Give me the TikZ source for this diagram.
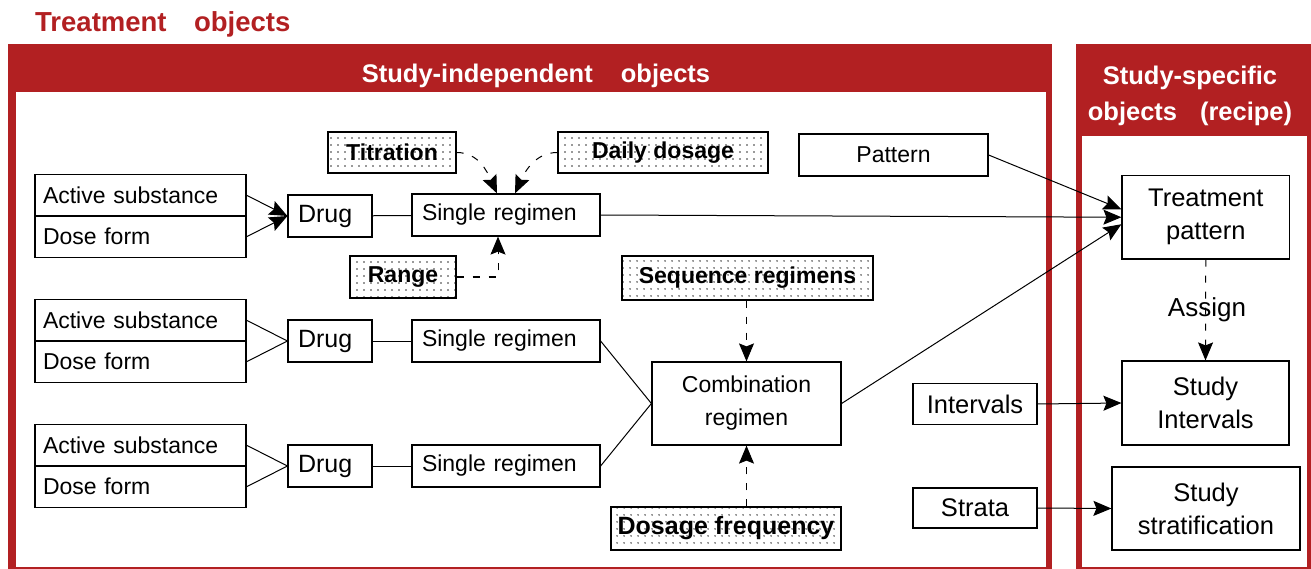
\documentclass[tikz,border=0pt]{standalone}
\usepackage{fontspec}
\setmainfont{Liberation Sans}
\usetikzlibrary{arrows.meta,patterns.meta}
\definecolor{framered}{RGB}{178,32,34}
\begin{document}
\begin{tikzpicture}[x=1pt,y=-1pt,>={Stealth[length=18pt,width=15pt,inset=3pt]},
  box/.style={draw,line width=1.2pt,inner sep=0pt,font=\fontsize{23}{33}\selectfont},
  cell/.style={box,minimum height=41.5pt,text width=195pt,inner xsep=8pt,align=left},
  drugbox/.style={box,minimum height=42pt,text width=64pt,inner xsep=10pt,align=left,font=\fontsize{25}{30}\selectfont},
  regbox/.style={box,minimum height=42pt,text width=168pt,inner xsep=10pt,align=left},
  dotbox/.style={box,pattern={Dots[distance=6.5pt,radius=0.9pt]},pattern color=black!80,font=\bfseries\fontsize{23}{27}\selectfont},
  bigbox/.style={box,align=center,font=\fontsize{25.5}{33}\selectfont},
  head/.style={text=white,inner sep=0pt,font=\bfseries\fontsize{25.5}{36}\selectfont},
  link/.style={line width=1pt},
  dashlink/.style={line width=1pt,dash pattern=on 7pt off 9pt}]
\useasboundingbox (0,0) rectangle (1311,569);
% frames
\fill[framered] (8,44) rectangle (1052,569);
\fill[white] (16,92.5) rectangle (1046,566.5);
\fill[framered] (1075.5,44) rectangle (1311,569);
\fill[white] (1082,136.5) rectangle (1306.5,566.5);
\node[text=framered,inner sep=0pt,font=\bfseries\fontsize{27.5}{30}\selectfont,anchor=base west] (title) at (35,31.7) {Treatment\hspace{1em}objects};
\node[head,anchor=base] (indep) at (536,82.5) {Study-independent\hspace{1.1em}objects};
\node[head,align=center] (specific) at (1190,95.5) {Study-specific\\objects\hspace{.9em}(recipe)};
% first drug
\node[cell] (as1) at (140.5,195.25) {Active substance};
\node[cell] (df1) at (140.5,236.75) {Dose form};
\node[drugbox] (drug1) at (330,216) {Drug};
\node[regbox] (sr1) at (506,215) {Single regimen};
% second drug
\node[cell] (as2) at (140.5,320.25) {Active substance};
\node[cell] (df2) at (140.5,361.75) {Dose form};
\node[drugbox] (drug2) at (330,341) {Drug};
\node[regbox] (sr2) at (506,341) {Single regimen};
% third drug
\node[cell] (as3) at (140.5,445.25) {Active substance};
\node[cell] (df3) at (140.5,486.75) {Dose form};
\node[drugbox] (drug3) at (330,466) {Drug};
\node[regbox] (sr3) at (506,466) {Single regimen};
% dotted attributes
\node[dotbox,minimum width=128pt,minimum height=41pt] (tit) at (392,152.5) {Titration};
\node[dotbox,minimum width=210pt,minimum height=41pt] (daily) at (663,152.5) {Daily dosage};
\node[dotbox,minimum width=106pt,minimum height=42pt] (range) at (403,277) {Range};
\node[dotbox,minimum width=251pt,minimum height=44pt] (seq) at (747.5,278) {Sequence regimens};
\node[dotbox,minimum width=230pt,minimum height=43pt,font=\bfseries\fontsize{25}{30}\selectfont] (dfreq) at (726,528.5) {Dosage frequency};
% other objects
\node[box,minimum width=189pt,minimum height=42pt] (pattern) at (893.5,155) {Pattern};
\node[box,align=center,minimum width=189pt,minimum height=83pt] (comb) at (746.5,403.5) {Combination\\regimen};
\node[box,minimum width=124pt,minimum height=41pt,font=\fontsize{25.5}{30}\selectfont] (intervals) at (975,404) {Intervals};
\node[box,minimum width=124pt,minimum height=40pt,font=\fontsize{25.5}{30}\selectfont] (strata) at (975,508) {Strata};
% study-specific
\node[bigbox,minimum width=167.5pt,minimum height=83.5pt] (tp) at (1205.75,217.25) {Treatment\\pattern};
\node[bigbox,minimum width=167pt,minimum height=84pt] (si) at (1205.5,403) {Study\\Intervals};
\node[bigbox,minimum width=188pt,minimum height=83pt] (sstrat) at (1206,508.5) {Study\\stratification};
\node[inner sep=0pt,font=\fontsize{26}{30}\selectfont] (assign) at (1207,310) {Assign};
% connectors
\draw[link,->] (as1.east) -- (drug1.west);
\draw[link,->] (df1.east) -- (drug1.west);
\draw[link] (drug1) -- (sr1);
\draw[link] (as2.east) -- (drug2.west);
\draw[link] (df2.east) -- (drug2.west);
\draw[link] (drug2) -- (sr2);
\draw[link] (as3.east) -- (drug3.west);
\draw[link] (df3.east) -- (drug3.west);
\draw[link] (drug3) -- (sr3);
\draw[dashlink,->] (tit.east) .. controls +(22,0) and +(-10,-22) .. ([xshift=-9pt]sr1.north);
\draw[dashlink,->] (daily.west) .. controls +(-22,0) and +(10,-22) .. ([xshift=9pt]sr1.north);
\draw[dashlink,->] (range.east) -| ([xshift=-8pt]sr1.south);
\draw[link] (sr2.east) -- (comb.west);
\draw[link] (sr3.east) -- (comb.west);
\draw[dashlink,->] (comb.north |- seq.south) -- (comb.north);
\draw[dashlink,->] (comb.south |- dfreq.north) -- (comb.south);
\draw[link,->] (sr1.east) -- (tp.west);
\draw[link,->] (pattern.east) -- ([yshift=8pt]tp.west);
\draw[link,->] (comb.east) -- ([yshift=-7pt]tp.west);
\draw[dashlink,->] (tp.south) -- (si.north);
\draw[link,->] (intervals.east) -- (si.west);
\draw[link,->] (strata.east) -- (sstrat.west);
\end{tikzpicture}
\end{document}
